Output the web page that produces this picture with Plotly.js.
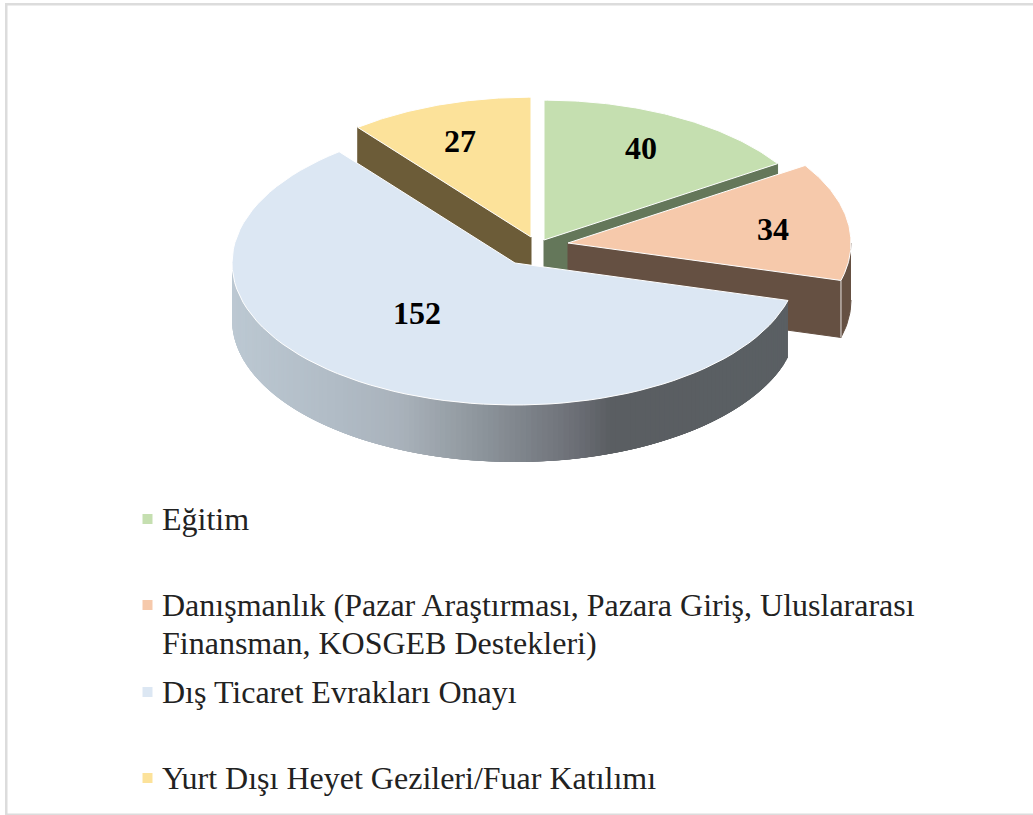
<!DOCTYPE html>
<html><head><meta charset="utf-8">
<script src="https://cdn.plot.ly/plotly-3.0.1.min.js"></script>
<style>html,body{margin:0;padding:0;background:#fff;overflow:hidden}#c{width:1033px;height:815px}</style>
</head><body><div id="c"></div>
<script>
const categories = ["Eğitim","Danışmanlık (Pazar Araştırması, Pazara Giriş, Uluslararası","Finansman, KOSGEB Destekleri)","Dış Ticaret Evrakları Onayı","Yurt Dışı Heyet Gezileri/Fuar Katılımı"];
const legendTextY = [519,605,643,692,778];
const values = [40,34,152,27];
const topColors = ["#c5dfb0","#f6c9ab","#dce7f3","#fce29a"];
const sideColors = ["#64775a","#655042","#5b6065","#6c5c38"];
// slice apex positions on the page (each slice is pulled out of the pie)
const apexX = [544,568,515,531];
const apexY = [240,243,263,237];
const sliceScale = [0.985,1,1,0.985];
const labelX = [641,773,417,460];
const labelY = [151,232,316,144];
const legendY = [519,605,692,778];
const RX=283, RY=142, DEPTH=57;
const total = values.reduce((a,b)=>a+b,0);
let cum=0;
const starts=[],ends=[];
values.forEach(v=>{starts.push(cum/total*2*Math.PI);cum+=v;ends.push(cum/total*2*Math.PI);});
const px=(i,a)=>apexX[i]+RX*sliceScale[i]*Math.sin(a);
const py=(i,a)=>apexY[i]-RY*sliceScale[i]*Math.cos(a);
const traces=[];
function poly(xs,ys,fill,line,w){
  traces.push({type:'scatter',mode:'lines',x:xs,y:ys,fill:'toself',fillcolor:fill,
    line:{color:line||fill,width:w===undefined?1:w},hoverinfo:'skip',showlegend:false});
}
function arc(i,a0,a1,n){const xs=[],ys=[];for(let k=0;k<=n;k++){const a=a0+(a1-a0)*k/n;xs.push(px(i,a));ys.push(py(i,a));}return [xs,ys];}
function face(i,a,c){
  const x=px(i,a),y=py(i,a);
  poly([apexX[i],x,x,apexX[i],apexX[i]],[apexY[i],y,y+DEPTH,apexY[i]+DEPTH,apexY[i]],c);
}
function rim(i,a0,a1,c,w){
  const [xs,ys]=arc(i,a0,a1,Math.max(2,Math.ceil(Math.abs(a1-a0)*40)));
  poly(xs.concat(xs.slice().reverse()),ys.concat(ys.slice().reverse().map(v=>v+DEPTH)),c,c,w);
}
function topFace(i){
  const [xs,ys]=arc(i,starts[i],ends[i],80);
  poly([apexX[i]].concat(xs,[apexX[i]]),[apexY[i]].concat(ys,[apexY[i]]),topColors[i],'#ffffff',1);
}
const stops=[[232,[188,200,210]],[340,[176,187,197]],[400,[169,178,187]],[475,[143,151,158]],[575,[108,111,118]],[610,[90,94,98]],[790,[90,95,99]]];
function rimColor(x){
  for(let k=1;k<stops.length;k++){
    if(x<=stops[k][0]){
      const t=Math.max(0,(x-stops[k-1][0])/(stops[k][0]-stops[k-1][0]));
      const c=stops[k-1][1].map((v,j)=>Math.round(v+(stops[k][1][j]-v)*t));
      return `rgb(${c.join(',')})`;
    }
  }
  return `rgb(${stops[stops.length-1][1].join(',')})`;
}
face(0,ends[0],sideColors[0]); topFace(0);
face(3,starts[3],sideColors[3]); topFace(3);
rim(1,Math.PI/2,ends[1],sideColors[1],1);
face(1,ends[1],sideColors[1]);
traces.push({type:'scatter',mode:'lines',x:[px(1,ends[1]),px(1,ends[1])],y:[py(1,ends[1]),py(1,ends[1])+DEPTH],line:{color:'#e8e4e0',width:1},hoverinfo:'skip',showlegend:false});
topFace(1);
// Blue rim: painted from its right end leftwards, each band reaching to the far end so no seams appear
const steps=150, a0=starts[2], a1=1.5*Math.PI;
for(let k=0;k<steps;k++){
  const u=a0+(a1-a0)*k/steps, v=a0+(a1-a0)*(k+1)/steps;
  rim(2,u,Math.min(a1,v+(a1-a0)*3/steps),rimColor(px(2,(u+v)/2)),0);
}
topFace(2);
traces.push({type:'scatter',mode:'text',x:labelX,y:labelY,text:values.map(String),textposition:'middle center',
  textfont:{family:'"Liberation Serif",serif',size:32,color:'#000',weight:700},hoverinfo:'skip',showlegend:false});
traces.push({type:'scatter',mode:'markers',x:legendY.map(()=>147.5),y:legendY,
  marker:{symbol:'square',size:10,color:topColors,line:{width:0}},hoverinfo:'skip',showlegend:false});
const annotations=categories.map((c,i)=>({x:160,y:legendTextY[i],xref:'x',yref:'y',text:c,showarrow:false,xanchor:'left',yanchor:'middle',align:'left',
  font:{family:'"Liberation Serif",serif',size:32,color:'#222'}}));
const border='#dcdcdc';
const shapes=[
 {type:'rect',xref:'x',yref:'y',x0:5,x1:1033,y0:3,y1:5.5,fillcolor:border,line:{width:0}},
 {type:'rect',xref:'x',yref:'y',x0:5,x1:7.5,y0:3,y1:815,fillcolor:border,line:{width:0}},
 {type:'rect',xref:'x',yref:'y',x0:5,x1:1033,y0:813.5,y1:815,fillcolor:border,line:{width:0}}
];
Plotly.newPlot('c',traces,{
  width:1033,height:815,margin:{l:0,r:0,t:0,b:0},paper_bgcolor:'#fff',plot_bgcolor:'#fff',showlegend:false,
  xaxis:{range:[0,1033],visible:false,fixedrange:true},
  yaxis:{range:[815,0],visible:false,fixedrange:true},
  annotations,shapes
},{displayModeBar:false,staticPlot:true});
</script></body></html>
